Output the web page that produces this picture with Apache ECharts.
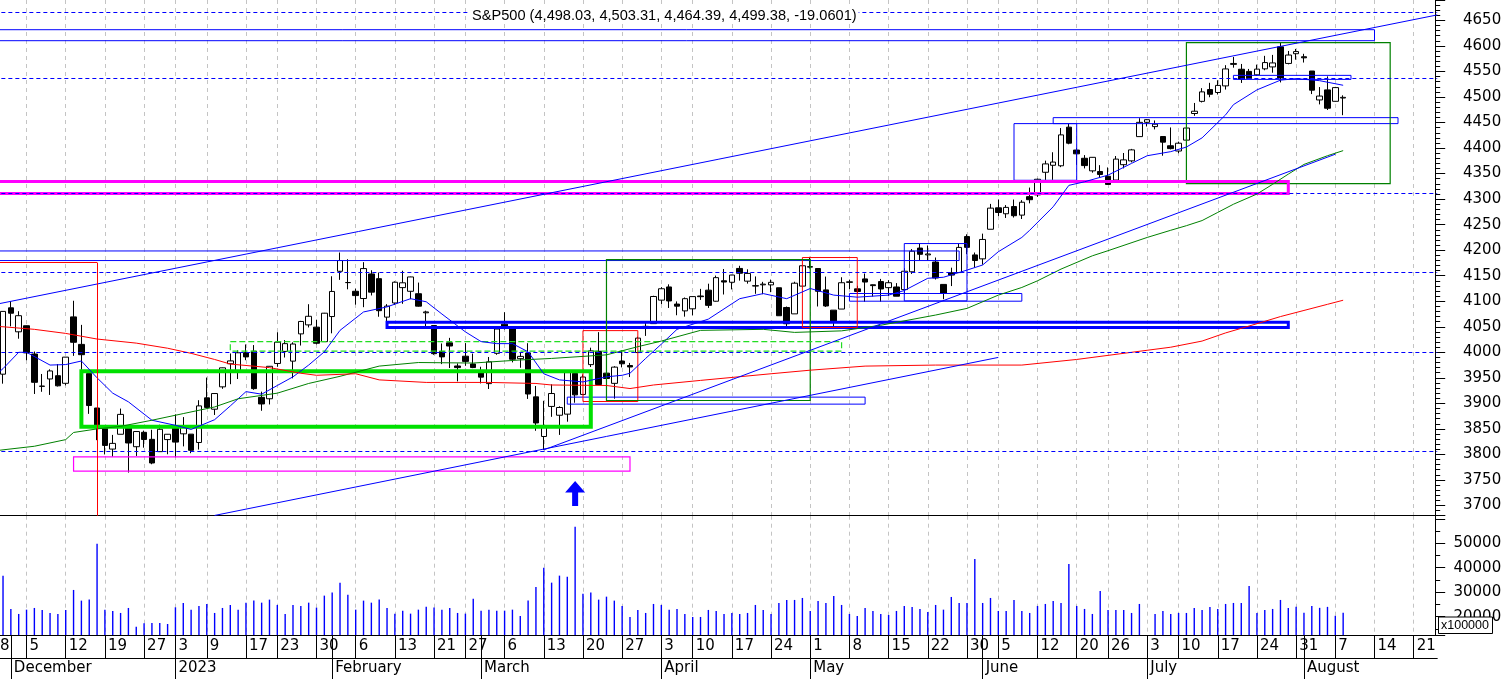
<!DOCTYPE html>
<html>
<head>
<meta charset="utf-8">
<title>S&amp;P500</title>
<script src="https://cdn.jsdelivr.net/npm/echarts@6.0.0/dist/echarts.min.js"></script>
<style>
  html, body { margin: 0; padding: 0; background: #fff; }
  #container { width: 1506px; height: 679px; }
</style>
</head>
<body>
<div id="container"></div>
<script>
// trading days on the axis, month by month (axis runs a bit past the last bar)
var tradingDays = [
    ['2022-11', [28, 29, 30]],
    ['2022-12', [1, 2, 5, 6, 7, 8, 9, 12, 13, 14, 15, 16, 19, 20, 21, 22, 23, 27, 28, 29, 30]],
    ['2023-01', [3, 4, 5, 6, 9, 10, 11, 12, 13, 17, 18, 19, 20, 23, 24, 25, 26, 27, 30, 31]],
    ['2023-02', [1, 2, 3, 6, 7, 8, 9, 10, 13, 14, 15, 16, 17, 21, 22, 23, 24, 27, 28]],
    ['2023-03', [1, 2, 3, 6, 7, 8, 9, 10, 13, 14, 15, 16, 17, 20, 21, 22, 23, 24, 27, 28, 29, 30, 31]],
    ['2023-04', [3, 4, 5, 6, 10, 11, 12, 13, 14, 17, 18, 19, 20, 21, 24, 25, 26, 27, 28]],
    ['2023-05', [1, 2, 3, 4, 5, 8, 9, 10, 11, 12, 15, 16, 17, 18, 19, 22, 23, 24, 25, 26, 30, 31]],
    ['2023-06', [1, 2, 5, 6, 7, 8, 9, 12, 13, 14, 15, 16, 20, 21, 22, 23, 26, 27, 28, 29, 30]],
    ['2023-07', [3, 5, 6, 7, 10, 11, 12, 13, 14, 17, 18, 19, 20, 21, 24, 25, 26, 27, 28, 31]],
    ['2023-08', [1, 2, 3, 4, 7, 8, 9, 10, 11, 14, 15, 16, 17, 18, 21, 22, 23, 24]]
];

var monthNames = ['January', 'February', 'March', 'April', 'May', 'June', 'July',
    'August', 'September', 'October', 'November', 'December'];

// daily bars: open, high, low, close (from 2022-11-28)
var ohlc = [
    [4005.36, 4012.27, 3955.77, 3963.94], [3964.19, 3976.77, 3937.65, 3957.63], [3957.18, 4080.11, 3938.58, 4080.11],
    [4087.14, 4100.51, 4050.87, 4076.57], [4040.17, 4080.48, 4026.63, 4071.70], [4052.02, 4052.45, 3984.49, 3998.84],
    [3996.63, 4001.51, 3918.39, 3941.26], [3933.28, 3957.57, 3922.68, 3933.92], [3947.79, 3966.64, 3916.54, 3963.51],
    [3954.17, 3977.02, 3933.04, 3934.38], [3939.29, 3990.71, 3935.30, 3990.56], [4069.38, 4100.96, 3993.03, 4019.65],
    [4015.54, 4053.76, 3965.65, 3995.32], [3958.37, 3958.37, 3879.45, 3895.75], [3890.91, 3890.91, 3827.91, 3852.36],
    [3853.79, 3854.86, 3800.04, 3817.66], [3810.47, 3838.24, 3795.62, 3821.62], [3839.49, 3889.82, 3839.49, 3878.44],
    [3853.26, 3853.26, 3764.49, 3822.39], [3815.11, 3845.80, 3797.01, 3844.82], [3843.34, 3846.65, 3813.22, 3829.25],
    [3829.56, 3848.32, 3780.78, 3783.22], [3805.45, 3858.19, 3805.45, 3849.28], [3829.06, 3839.85, 3800.34, 3839.50],
    [3853.29, 3878.46, 3794.33, 3824.14], [3840.36, 3873.16, 3815.77, 3852.97], [3839.74, 3839.74, 3802.42, 3808.10],
    [3823.37, 3906.19, 3809.56, 3895.08], [3910.82, 3950.57, 3890.42, 3892.09], [3888.57, 3919.83, 3877.29, 3919.25],
    [3932.35, 3970.07, 3928.54, 3969.61], [3977.57, 3997.76, 3937.56, 3983.17], [3960.60, 4003.95, 3947.67, 3999.09],
    [3999.28, 4015.39, 3984.57, 3990.97], [4002.25, 4014.16, 3926.59, 3928.86], [3911.84, 3922.94, 3885.54, 3898.85],
    [3909.04, 3972.96, 3897.86, 3972.61], [3978.14, 4039.31, 3971.64, 4019.81], [4001.74, 4023.92, 3989.79, 4016.95],
    [3982.71, 4019.55, 3949.06, 4016.22], [4036.08, 4061.57, 4013.29, 4060.43], [4053.72, 4094.21, 4048.70, 4070.56],
    [4049.27, 4063.85, 4015.55, 4017.77], [4020.85, 4077.16, 4020.44, 4076.60], [4070.07, 4148.95, 4037.20, 4119.21],
    [4158.68, 4195.44, 4141.88, 4179.76], [4136.69, 4182.36, 4123.36, 4136.48], [4119.57, 4124.63, 4093.38, 4111.08],
    [4105.35, 4176.54, 4088.39, 4164.00], [4153.47, 4160.77, 4111.35, 4117.86], [4144.25, 4156.23, 4069.67, 4081.50],
    [4068.92, 4094.36, 4060.79, 4090.46], [4096.62, 4138.90, 4092.67, 4137.29], [4126.70, 4159.77, 4095.01, 4136.13],
    [4119.50, 4148.11, 4103.98, 4147.60], [4114.75, 4136.54, 4089.49, 4090.41], [4077.39, 4081.51, 4047.95, 4079.09],
    [4052.35, 4052.35, 3995.19, 3997.34], [4001.83, 4017.37, 3976.90, 3991.05], [4018.60, 4028.30, 3969.19, 4012.32],
    [3973.24, 3978.25, 3943.08, 3970.04], [3992.36, 4018.05, 3973.55, 3982.24], [3977.19, 3997.50, 3968.98, 3970.15],
    [3963.34, 3971.73, 3939.05, 3951.39], [3938.68, 3990.84, 3928.16, 3981.35], [3998.02, 4048.29, 3995.17, 4045.64],
    [4055.15, 4078.49, 4044.61, 4048.42], [4048.26, 4050.00, 3980.31, 3986.37], [3987.55, 4000.41, 3969.76, 3992.01],
    [3998.66, 4017.81, 3908.70, 3918.32], [3912.77, 3934.05, 3846.32, 3861.59], [3835.12, 3905.05, 3808.86, 3855.76],
    [3894.01, 3937.29, 3873.63, 3919.29], [3876.74, 3894.26, 3838.24, 3891.93], [3878.93, 3964.46, 3864.11, 3960.28],
    [3958.69, 3958.91, 3901.27, 3916.64], [3917.47, 3956.62, 3916.89, 3951.57], [3975.89, 4009.08, 3971.19, 4002.87],
    [4002.04, 4039.49, 3936.17, 3936.97], [3959.21, 4007.66, 3919.05, 3948.72], [3939.21, 3972.74, 3909.16, 3970.99],
    [3982.93, 4003.83, 3970.49, 3977.53], [3974.13, 3979.20, 3951.53, 3971.27], [3999.53, 4030.59, 3999.53, 4027.81],
    [4046.74, 4057.85, 4032.10, 4050.83], [4056.18, 4110.75, 4056.18, 4109.31], [4102.20, 4127.66, 4094.50, 4124.51],
    [4128.03, 4133.13, 4086.87, 4100.60], [4094.50, 4099.69, 4072.56, 4090.38], [4081.15, 4107.32, 4069.84, 4105.02],
    [4085.20, 4109.50, 4072.55, 4109.11], [4110.29, 4124.26, 4102.61, 4108.94], [4121.72, 4134.37, 4086.94, 4091.95],
    [4100.04, 4150.26, 4099.40, 4146.22], [4140.11, 4163.19, 4113.20, 4137.64], [4137.17, 4151.72, 4123.18, 4151.32],
    [4164.26, 4169.48, 4140.36, 4154.87], [4139.33, 4162.57, 4134.49, 4154.52], [4130.48, 4148.57, 4114.57, 4129.79],
    [4132.14, 4138.02, 4113.86, 4133.52], [4132.07, 4142.41, 4117.77, 4137.04], [4126.43, 4126.43, 4071.38, 4071.63],
    [4087.78, 4089.67, 4049.35, 4055.99], [4075.29, 4138.24, 4075.29, 4135.35], [4129.63, 4170.06, 4127.18, 4169.48],
    [4166.79, 4186.92, 4164.12, 4167.87], [4164.10, 4164.10, 4089.72, 4119.58], [4122.25, 4148.30, 4088.86, 4090.75],
    [4082.61, 4082.61, 4048.28, 4061.22], [4084.73, 4147.02, 4084.73, 4136.25], [4136.98, 4142.30, 4123.81, 4138.12],
    [4124.25, 4130.35, 4116.65, 4119.17], [4143.74, 4154.28, 4098.92, 4137.64], [4132.24, 4132.80, 4109.29, 4130.62],
    [4138.54, 4143.74, 4099.12, 4124.08], [4126.65, 4141.25, 4110.27, 4136.28], [4127.95, 4135.54, 4109.86, 4109.90],
    [4122.85, 4164.67, 4113.62, 4158.77], [4157.68, 4202.20, 4153.50, 4198.05], [4204.15, 4212.91, 4180.20, 4191.98],
    [4190.78, 4209.22, 4179.68, 4192.63], [4176.80, 4185.68, 4142.54, 4145.58], [4132.96, 4132.96, 4103.98, 4115.24],
    [4155.71, 4165.74, 4129.73, 4151.28], [4156.16, 4212.87, 4156.16, 4205.45], [4226.71, 4231.10, 4192.18, 4205.52],
    [4190.74, 4195.44, 4166.15, 4179.83], [4183.03, 4232.43, 4171.64, 4221.02], [4241.01, 4290.67, 4241.01, 4282.37],
    [4282.99, 4299.28, 4266.82, 4273.79], [4271.34, 4288.33, 4263.09, 4283.85], [4285.47, 4299.19, 4263.96, 4267.52],
    [4268.69, 4298.01, 4261.07, 4293.93], [4304.88, 4322.62, 4291.70, 4298.86], [4308.32, 4340.13, 4304.37, 4338.93],
    [4352.61, 4375.37, 4337.66, 4369.01], [4366.29, 4391.82, 4337.85, 4372.59], [4365.33, 4439.20, 4362.60, 4425.84],
    [4440.95, 4448.47, 4407.44, 4409.59], [4396.11, 4400.15, 4367.19, 4388.71], [4380.01, 4386.22, 4360.14, 4365.69],
    [4355.40, 4382.25, 4351.82, 4381.89], [4354.17, 4366.55, 4341.34, 4348.33], [4344.84, 4362.06, 4328.08, 4328.82],
    [4337.36, 4384.42, 4335.00, 4378.41], [4367.48, 4390.35, 4360.22, 4376.86], [4374.94, 4398.39, 4371.97, 4396.44],
    [4422.44, 4458.48, 4422.44, 4450.38], [4450.48, 4456.46, 4442.29, 4455.59], [4442.04, 4454.06, 4436.61, 4446.82],
    [4422.62, 4422.62, 4385.05, 4411.59], [4404.54, 4440.39, 4397.40, 4398.95], [4394.23, 4412.60, 4389.92, 4409.53],
    [4415.55, 4443.64, 4408.46, 4439.26], [4467.69, 4488.34, 4463.23, 4472.16], [4491.50, 4517.38, 4489.36, 4510.04],
    [4514.61, 4527.76, 4499.56, 4505.42], [4508.86, 4532.85, 4504.90, 4522.79], [4521.78, 4562.30, 4514.59, 4554.98],
    [4563.87, 4578.43, 4557.48, 4565.72], [4554.38, 4564.74, 4527.56, 4534.87], [4550.16, 4555.00, 4535.79, 4536.34],
    [4543.39, 4563.41, 4541.29, 4554.64], [4555.19, 4580.62, 4552.42, 4567.46], [4558.96, 4582.47, 4547.58, 4566.75],
    [4598.26, 4607.07, 4528.56, 4537.41], [4565.75, 4590.16, 4564.01, 4582.23], [4584.82, 4594.22, 4573.14, 4588.96],
    [4578.83, 4584.62, 4567.53, 4576.73], [4550.93, 4550.93, 4505.75, 4513.39], [4494.27, 4519.49, 4485.54, 4501.89],
    [4513.96, 4540.34, 4474.55, 4478.03], [4491.58, 4519.84, 4491.15, 4518.44], [4498.03, 4503.31, 4464.39, 4499.38]
];

// volume, in units of 100000
var volume = [
    20000, 20000, 36760, 23150, 21100, 22860, 23550, 22740, 21510, 21100,
    22740, 30910, 26550, 26960, 49830, 22860, 22330, 21510, 23550, 15910,
    17270, 17410, 17410, 17000, 23820, 25590, 22860, 24370, 25190, 21510,
    23550, 24780, 22860, 25720, 26550, 25720, 26960, 24780, 21100, 24780,
    24370, 25720, 23690, 28590, 29820, 33900, 28990, 22860, 26550, 25720,
    26960, 23550, 21230, 22450, 21230, 22860, 24090, 23690, 22860, 23550,
    21510, 21230, 27360, 22450, 22860, 22450, 22450, 22860, 20280, 26550,
    32140, 40030, 33900, 36760, 36350, 56780, 29400, 29820, 26960, 28170,
    26550, 24370, 19870, 22740, 21510, 25190, 24780, 22860, 23150, 21100,
    19870, 19870, 22740, 22330, 21100, 21510, 21100, 21510, 24780, 22740,
    21100, 25590, 26830, 26830, 27640, 22330, 26420, 25590, 28460, 24780,
    21100, 20280, 23550, 22330, 21100, 20690, 22330, 24370, 23960, 23150,
    21920, 24780, 22860, 28050, 25590, 25590, 43580, 25590, 27640, 22330,
    22330, 26820, 22330, 21510, 24370, 25190, 26420, 25600, 41540, 24370,
    23150, 21100, 30500, 22740, 22740, 22740, 21510, 25190, 12000, 21100,
    22330, 21100, 21510, 21510, 23550, 22740, 23960, 23150, 25190, 25600,
    25600, 32550, 21510, 22740, 23150, 26820, 23550, 24000, 21600, 24400,
    23600, 24000, 20350, 21550
];

// moving averages: [trading-day index, value]
var maBlue = [
    [1, 3955], [2, 3968], [4, 4000], [5, 4000], [8, 3975], [10, 3976], [12, 3983], [14, 3950], [16, 3920],
    [18, 3903], [21, 3867], [24, 3857], [26, 3849], [29, 3868], [31, 3895], [33, 3923], [35, 3918], [37, 3935],
    [39, 3952], [41, 3975], [43, 4001], [45, 4043], [48, 4079], [51, 4089], [54, 4105], [56, 4099], [58, 4075],
    [61, 4040], [63, 4021], [65, 4017], [67, 4017], [69, 4001], [71, 3958], [73, 3946], [76, 3942], [79, 3952],
    [81, 3955], [82, 3959], [84, 3988], [86, 4016], [88, 4045], [92, 4065], [96, 4105], [99, 4115], [102, 4105],
    [105, 4125], [108, 4112], [111, 4108], [115, 4112], [117, 4121], [120, 4145], [122, 4147], [125, 4161],
    [127, 4171], [129, 4197], [132, 4225], [133, 4239], [136, 4285], [138, 4327], [140, 4334], [143, 4347],
    [146, 4370], [148, 4385], [151, 4393], [153, 4402], [155, 4420], [158, 4465], [159, 4485], [162, 4514],
    [165, 4533], [167, 4536], [170, 4532], [173, 4523]
];
var maGreen = [
    [1, 3807], [2, 3809], [6, 3816], [10, 3829], [11, 3843], [14, 3850], [17, 3855], [21, 3867], [25, 3880],
    [29, 3893], [32, 3909], [37, 3920], [41, 3939], [45, 3953], [50, 3973], [55, 3980], [62, 3979], [68, 3985],
    [72, 3988], [79, 3995], [83, 4011], [86, 4022], [91, 4043], [99, 4045], [103, 4039], [109, 4042], [114, 4053],
    [121, 4073], [125, 4086], [129, 4112], [132, 4127], [134, 4140], [137, 4163], [141, 4189], [143, 4199],
    [148, 4225], [151, 4239], [153, 4248], [155, 4258], [157, 4274], [159, 4290], [162, 4310], [164, 4329],
    [166, 4349], [168, 4368], [171, 4385], [173, 4395]
];
var maRed = [
    [1, 4051], [2, 4050], [6, 4045], [10, 4037], [14, 4026], [19, 4018], [23, 4008], [26, 3998], [29, 3986],
    [31, 3977], [36, 3970], [40, 3959], [42, 3955], [47, 3958], [50, 3946], [56, 3941], [64, 3941], [70, 3939],
    [72, 3936], [79, 3935], [82, 3929], [85, 3936], [91, 3945], [100, 3958], [105, 3965], [112, 3973],
    [121, 3975], [132, 3975], [139, 3986], [143, 3994], [146, 4000], [151, 4010], [155, 4022], [158, 4038],
    [162, 4056], [165, 4070], [168, 4082], [171, 4094], [173, 4102]
];

// drawn objects: boxes are [from, to, top price, bottom price]
var blueBoxes = [
    ['2022-11-28', '2023-08-14', 4631.8, 4610.3],
    ['2022-11-28', '2023-05-26', 4198.5, 4179.7],
    ['2023-03-16', '2023-05-10', 3912.2, 3898.5],
    ['2023-05-08', '2023-06-08', 4115.2, 4100.1],
    ['2023-05-17', '2023-05-30', 4213.0, 4100.7],
    ['2023-06-07', '2023-06-20', 4447.9, 4336.9],
    ['2023-06-14', '2023-08-17', 4459.6, 4447.9],
    ['2023-07-19', '2023-08-09', 4542.4, 4534.5]
];
var blueThickBoxes = [['2023-02-10', '2023-07-28', 4059.0, 4048.8]];
var redBoxes = [
    ['2023-03-20', '2023-03-29', 4042.5, 3903.6],
    ['2023-04-28', '2023-05-09', 4185.6, 4048.6]
];
var darkGreenBoxes = [
    ['2023-03-23', '2023-05-01', 4181.7, 3905.6],
    ['2023-07-11', '2023-08-16', 4606.4, 4330.4]
];
var limeBoxes = [['2022-12-14', '2023-03-21', 3963.0, 3854.1]];
var limeDashedBoxes = [['2023-01-12', '2023-05-05', 4021.0, 4002.2]];
var magentaBoxes = [['2022-12-13', '2023-03-28', 3795.4, 3767.4]];
var magentaThickBoxes = [['2022-11-28', '2023-07-28', 4334.3, 4311.1]];
// red box whose left and bottom sides fall outside the chart
var redOpenBox = ['2022-11-28', '2022-12-16', 4175.8, 3680];

var levels = [4666.2, 4535.9, 4310.9, 4156.2, 4000.0, 3806.5];
var trendLines = [
    ['2022-11-28', 4090.6, '2023-08-24', 4660.8],
    ['2023-01-10', 3680.5, '2023-06-05', 3990.0],
    ['2023-03-13', 3808.9, '2023-08-07', 4388.0]
];
var arrows = [['2023-03-17', 3723.4]];

var dates = [];
tradingDays.forEach(function (m) {
    m[1].forEach(function (d) {
        dates.push(m[0] + '-' + (d < 10 ? '0' + d : d));
    });
});

function weekday(d) {
    var p = d.split('-');
    return new Date(Date.UTC(+p[0], +p[1] - 1, +p[2])).getUTCDay();
}
var weekStart = dates.map(function (d, i) {
    return i === 0 || weekday(d) <= weekday(dates[i - 1]);
});
var monthStart = dates.map(function (d, i) {
    return i > 0 && d.slice(0, 7) !== dates[i - 1].slice(0, 7);
});

var candles = ohlc.map(function (r) {
    return [r[0], r[3], r[2], r[1]];
});

function boxArea(list, style) {
    return list.map(function (b) {
        return [
            { xAxis: b[0], yAxis: b[2], itemStyle: style },
            { xAxis: b[1], yAxis: b[3] }
        ];
    });
}
function boxStyle(color, width, type) {
    return { color: 'rgba(0,0,0,0)', borderColor: color, borderWidth: width, borderType: type || 'solid' };
}

var areaData = []
    .concat(boxArea(blueBoxes, boxStyle('#0000ff', 1)))
    .concat(boxArea(blueThickBoxes, boxStyle('#0000ff', 3)))
    .concat(boxArea(redBoxes, boxStyle('#ff0000', 1)))
    .concat(boxArea(darkGreenBoxes, boxStyle('#008000', 1.2)))
    .concat(boxArea(limeBoxes, boxStyle('#00e000', 4)))
    .concat(boxArea(limeDashedBoxes, boxStyle('#22dd22', 1.2, [6, 3])))
    .concat(boxArea(magentaBoxes, boxStyle('#ff00ff', 1.2)))
    .concat(boxArea(magentaThickBoxes, boxStyle('#ff00ff', 3)));

var lineData = [];
levels.forEach(function (v) {
    lineData.push({ yAxis: v, lineStyle: { color: '#0000ff', width: 1, type: [4, 3] } });
});
trendLines.forEach(function (t) {
    lineData.push([
        { coord: [t[0], t[1]], lineStyle: { color: '#0000ff', width: 1, type: 'solid' } },
        { coord: [t[2], t[3]] }
    ]);
});
lineData.push([
    { coord: [redOpenBox[0], redOpenBox[2]], lineStyle: { color: '#ff0000', width: 1, type: 'solid' } },
    { coord: [redOpenBox[1], redOpenBox[2]] }
]);
lineData.push([
    { coord: [redOpenBox[1], redOpenBox[2]], lineStyle: { color: '#ff0000', width: 1, type: 'solid' } },
    { coord: [redOpenBox[1], redOpenBox[3]] }
]);

var axisFont = { fontFamily: 'DejaVu Sans', fontSize: 15, color: '#000' };
var gridDash = { color: '#c4c4c4', width: 1, type: [4, 4] };

var dom = document.getElementById('container');
var myChart = echarts.init(dom, null, { renderer: 'canvas' });

var left = -12.65;
var plotWidth = 1449.85;

myChart.setOption({
    animation: false,
    backgroundColor: '#fff',
    title: {
        text: 'S&P500 (4,498.03, 4,503.31, 4,464.39, 4,499.38, -19.0601)',
        left: 470,
        top: 7,
        padding: [1, 2],
        backgroundColor: '#fff',
        textStyle: { fontFamily: 'Liberation Sans', fontSize: 14.6, fontWeight: 'normal', color: '#000' }
    },
    grid: [
        { left: left, top: 0, width: plotWidth, height: 515.7, containLabel: false, outerBoundsMode: 'none' },
        { left: left, top: 515.7, width: plotWidth, height: 119.3, containLabel: false, outerBoundsMode: 'none' }
    ],
    xAxis: [
        {
            type: 'category', gridIndex: 0, data: dates, boundaryGap: false,
            axisLine: { lineStyle: { color: '#000', width: 1.2 } },
            axisTick: { show: false }, axisLabel: { show: false },
            splitLine: { show: true, interval: function (i) { return weekStart[i]; }, lineStyle: gridDash }
        },
        {
            type: 'category', gridIndex: 1, data: dates, boundaryGap: false,
            axisLine: { lineStyle: { color: '#000', width: 1.2 } },
            axisTick: {
                show: true, length: 23, lineStyle: { color: '#000' },
                interval: function (i) { return weekStart[i] || monthStart[i]; }
            },
            axisLabel: Object.assign({
                interval: function (i) { return weekStart[i]; },
                formatter: function (v) { return String(+v.slice(8)); },
                align: 'left', verticalAlign: 'middle', margin: 11, padding: [0, 0, 0, 3]
            }, axisFont),
            splitLine: { show: true, interval: function (i) { return weekStart[i]; }, lineStyle: gridDash }
        },
        {
            type: 'category', gridIndex: 1, data: dates, boundaryGap: false,
            position: 'bottom', offset: 23,
            axisLine: { lineStyle: { color: '#000', width: 1.2 } },
            axisTick: {
                show: true, length: 21, lineStyle: { color: '#000' },
                interval: function (i) { return monthStart[i]; }
            },
            axisLabel: Object.assign({
                interval: function (i) { return monthStart[i]; },
                formatter: function (v) {
                    var m = +v.slice(5, 7);
                    return m === 1 ? v.slice(0, 4) : monthNames[m - 1];
                },
                align: 'left', verticalAlign: 'middle', margin: 10, padding: [0, 0, 0, 3]
            }, axisFont),
            splitLine: { show: false }
        }
    ],
    yAxis: [
        {
            type: 'value', gridIndex: 0, position: 'right', offset: -2,
            min: 3680, max: 4690, splitNumber: 20,
            axisLine: { show: true, lineStyle: { color: '#000' } },
            axisTick: { show: true, length: 10, lineStyle: { color: '#000' } },
            axisLabel: Object.assign({
                align: 'right', margin: 66,
                formatter: function (v) { return (v % 50 === 0 && v >= 3700 && v <= 4650) ? String(v) : ''; }
            }, axisFont),
            splitLine: { show: false }
        },
        {
            type: 'value', gridIndex: 0, position: 'right', offset: -2,
            min: 3680, max: 4690, interval: 10,
            axisLine: { show: false },
            axisTick: { show: true, length: 5, lineStyle: { color: '#000' } },
            axisLabel: { show: false },
            splitLine: { show: false }
        },
        {
            type: 'value', gridIndex: 1, position: 'right', offset: -2,
            min: 12500, max: 61250, splitNumber: 5,
            axisLine: { show: true, lineStyle: { color: '#000' } },
            axisTick: { show: true, length: 10, lineStyle: { color: '#000' } },
            minorTick: { show: true, splitNumber: 2, length: 5, lineStyle: { color: '#000' } },
            axisLabel: Object.assign({
                align: 'right', margin: 66,
                formatter: function (v) { return (v % 10000 === 0 && v >= 20000 && v <= 50000) ? String(v) : ''; }
            }, axisFont),
            splitLine: { show: false }
        }
    ],
    series: [
        {
            name: 'S&P500', type: 'candlestick', xAxisIndex: 0, yAxisIndex: 0,
            data: candles, barWidth: 6,
            itemStyle: {
                color: '#ffffff', color0: '#000000',
                borderColor: '#000000', borderColor0: '#000000', borderColorDoji: '#000000',
                borderWidth: 1
            },
            markArea: { silent: true, z: 3, label: { show: false }, data: areaData },
            markLine: {
                silent: true, symbol: ['none', 'none'], label: { show: false },
                emphasis: { disabled: true }, data: lineData
            },
            markPoint: {
                silent: true,
                symbol: 'path://M10 0 L20 11.5 L13 11.5 L13 25 L7 25 L7 11.5 L0 11.5 Z',
                symbolSize: [20, 25],
                itemStyle: { color: '#0000ff' },
                label: { show: false },
                data: arrows.map(function (a) { return { coord: a }; })
            }
        },
        {
            type: 'line', xAxisIndex: 0, yAxisIndex: 0, data: maBlue,
            showSymbol: false, symbol: 'none', lineStyle: { color: '#0000ff', width: 1 }
        },
        {
            type: 'line', xAxisIndex: 0, yAxisIndex: 0, data: maGreen,
            showSymbol: false, symbol: 'none', lineStyle: { color: '#008000', width: 1 }
        },
        {
            type: 'line', xAxisIndex: 0, yAxisIndex: 0, data: maRed,
            showSymbol: false, symbol: 'none', lineStyle: { color: '#ff0000', width: 1 }
        },
        {
            name: 'Volume', type: 'bar', xAxisIndex: 1, yAxisIndex: 2,
            data: volume, barWidth: 1.4, clip: true,
            itemStyle: { color: '#0000ff' }
        }
    ],
    graphic: [
        {
            type: 'rect', z: 100,
            shape: { x: 1438.5, y: 617, width: 54, height: 16.5 },
            style: { fill: '#fff', stroke: '#000', lineWidth: 1 }
        },
        {
            type: 'text', z: 101, x: 1441, y: 625.5,
            style: { text: 'x100000', fill: '#000', font: '12.5px "Liberation Sans"', verticalAlign: 'middle' }
        }
    ]
});

window.addEventListener('resize', function () {
    myChart.resize();
});
</script>
</body>
</html>
